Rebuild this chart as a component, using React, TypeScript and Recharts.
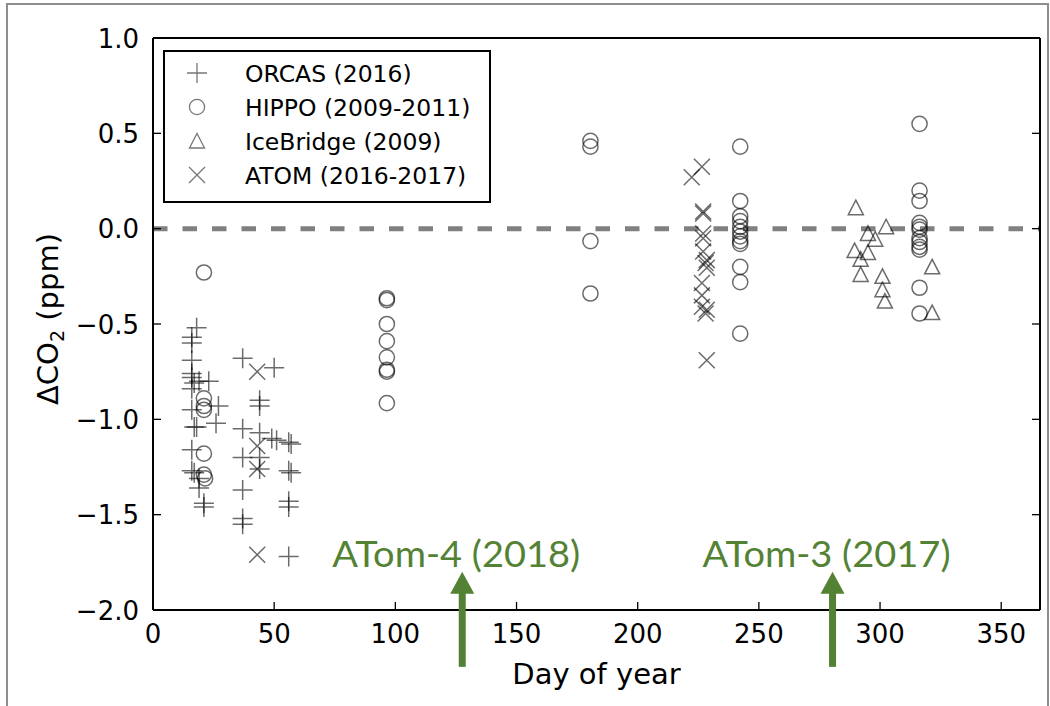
import React from 'react';
import { ScatterChart, Scatter, XAxis, YAxis, ReferenceLine } from 'recharts';

const xTicks = [0, 50, 100, 150, 200, 250, 300, 350];
const yTicks = [-2, -1.5, -1, -0.5, 0, 0.5, 1];

const orcas = [
  { day: 16, dco2: -0.57 }, { day: 18, dco2: -0.52 }, { day: 16, dco2: -0.6 }, { day: 16, dco2: -0.69 },
  { day: 16, dco2: -0.76 }, { day: 16, dco2: -0.78 }, { day: 17, dco2: -0.81 }, { day: 16, dco2: -0.84 },
  { day: 19, dco2: -0.8 }, { day: 23, dco2: -0.8 }, { day: 16, dco2: -0.95 }, { day: 17, dco2: -1.04 },
  { day: 18, dco2: -1.04 }, { day: 16, dco2: -1.16 }, { day: 16, dco2: -1.27 }, { day: 17, dco2: -1.28 },
  { day: 19, dco2: -1.31 }, { day: 19, dco2: -1.36 }, { day: 21, dco2: -1.44 }, { day: 21, dco2: -1.46 },
  { day: 27, dco2: -0.93 }, { day: 26, dco2: -1.02 },
  { day: 37, dco2: -0.68 }, { day: 37, dco2: -1.05 }, { day: 37, dco2: -1.2 }, { day: 37, dco2: -1.37 },
  { day: 37, dco2: -1.52 }, { day: 37, dco2: -1.55 },
  { day: 44, dco2: -0.9 }, { day: 44, dco2: -0.93 }, { day: 44, dco2: -1.07 }, { day: 44, dco2: -1.2 },
  { day: 44, dco2: -1.26 },
  { day: 50, dco2: -0.73 }, { day: 49, dco2: -1.1 }, { day: 51, dco2: -1.11 },
  { day: 56, dco2: -1.12 }, { day: 57, dco2: -1.13 }, { day: 56, dco2: -1.27 }, { day: 57, dco2: -1.28 },
  { day: 56, dco2: -1.43 }, { day: 56, dco2: -1.46 }, { day: 56, dco2: -1.72 },
];

const hippo = [
  { day: 21, dco2: -0.23 }, { day: 21, dco2: -0.89 }, { day: 21, dco2: -0.93 }, { day: 21, dco2: -0.95 },
  { day: 21, dco2: -1.18 }, { day: 21, dco2: -1.29 }, { day: 21.5, dco2: -1.31 },
  { day: 96.5, dco2: -0.365 }, { day: 96.5, dco2: -0.375 }, { day: 96.5, dco2: -0.5 }, { day: 96.5, dco2: -0.59 },
  { day: 96.5, dco2: -0.675 }, { day: 96.5, dco2: -0.74 }, { day: 96.5, dco2: -0.75 }, { day: 96.5, dco2: -0.915 },
  { day: 180.5, dco2: 0.46 }, { day: 180.5, dco2: 0.43 }, { day: 180.5, dco2: -0.065 }, { day: 180.5, dco2: -0.34 },
  { day: 242.3, dco2: 0.43 }, { day: 242.3, dco2: 0.145 }, { day: 242.3, dco2: 0.065 }, { day: 242.3, dco2: 0.04 },
  { day: 242.3, dco2: 0.01 }, { day: 242.3, dco2: -0.015 }, { day: 242.3, dco2: -0.04 }, { day: 242.3, dco2: -0.065 },
  { day: 242.3, dco2: -0.08 }, { day: 242.3, dco2: -0.2 }, { day: 242.3, dco2: -0.28 }, { day: 242.3, dco2: -0.55 },
  { day: 316.3, dco2: 0.55 }, { day: 316.3, dco2: 0.2 }, { day: 316.3, dco2: 0.145 }, { day: 316.3, dco2: 0.03 },
  { day: 316.3, dco2: 0.01 }, { day: 316.3, dco2: -0.005 }, { day: 316.3, dco2: -0.05 }, { day: 316.3, dco2: -0.07 },
  { day: 316.3, dco2: -0.095 }, { day: 316.3, dco2: -0.11 }, { day: 316.3, dco2: -0.31 }, { day: 316.3, dco2: -0.445 },
];

const iceBridge = [
  { day: 290, dco2: 0.11 }, { day: 295, dco2: -0.025 }, { day: 298, dco2: -0.055 }, { day: 302.5, dco2: 0.01 },
  { day: 289.5, dco2: -0.115 }, { day: 295, dco2: -0.125 }, { day: 292, dco2: -0.16 }, { day: 292, dco2: -0.24 },
  { day: 301, dco2: -0.25 }, { day: 301, dco2: -0.32 }, { day: 302, dco2: -0.38 }, { day: 321.5, dco2: -0.2 },
  { day: 321.5, dco2: -0.44 },
];

const atom = [
  { day: 43, dco2: -0.75 }, { day: 43, dco2: -1.14 }, { day: 43, dco2: -1.26 }, { day: 43, dco2: -1.71 },
  { day: 226.5, dco2: 0.325 }, { day: 222.3, dco2: 0.27 }, { day: 227, dco2: 0.09 }, { day: 227, dco2: 0.08 },
  { day: 227, dco2: -0.025 }, { day: 227, dco2: -0.05 }, { day: 227, dco2: -0.12 }, { day: 228.5, dco2: -0.165 },
  { day: 228, dco2: -0.18 }, { day: 228.5, dco2: -0.205 }, { day: 226.5, dco2: -0.285 }, { day: 226.5, dco2: -0.35 },
  { day: 226.5, dco2: -0.41 }, { day: 228.5, dco2: -0.425 }, { day: 228, dco2: -0.445 }, { day: 228.5, dco2: -0.69 },
];

// green arrows under the plot marking the next ATom campaigns
const campaigns = [
  { day: 127.6, dco2: -1.8, label: 'ATom-4 (2018)' },
  { day: 280.4, dco2: -1.8, label: 'ATom-3 (2017)' },
];

const legendItems = [
  { name: 'ORCAS (2016)', kind: 'plus' },
  { name: 'HIPPO (2009-2011)', kind: 'circle' },
  { name: 'IceBridge (2009)', kind: 'triangle' },
  { name: 'ATOM (2016-2017)', kind: 'cross' },
];

const FONT = '"DejaVu Sans", sans-serif';
const GREEN = '#548235';
const MARK = { stroke: '#000', strokeOpacity: 0.58, strokeWidth: 1.5, fill: 'none' };
const LEGEND_MARK = { stroke: '#777', strokeWidth: 1.3, fill: 'none' };

const Marker = ({ kind, cx, cy, style }: any) => {
  if (kind === 'plus') {
    return <path d={`M${cx - 10},${cy}H${cx + 10}M${cx},${cy - 10}V${cy + 10}`} {...style} />;
  }
  if (kind === 'circle') {
    return <circle cx={cx} cy={cy} r={7.6} {...style} />;
  }
  if (kind === 'triangle') {
    return <path d={`M${cx},${cy - 7.5}L${cx + 7.5},${cy + 7}L${cx - 7.5},${cy + 7}Z`} {...style} />;
  }
  return <path d={`M${cx - 8},${cy - 8}L${cx + 8},${cy + 8}M${cx - 8},${cy + 8}L${cx + 8},${cy - 8}`} {...style} />;
};

const shapeOf = (kind: string) => (p: any) => <Marker kind={kind} cx={p.cx} cy={p.cy} style={MARK} />;

const CampaignArrow = (p: any) => {
  const { cx, cy, payload } = p;
  return (
    <g>
      <text x={cx - 130} y={cy - 5} fill={GREEN} fontFamily="Lato, sans-serif" fontSize={37} textLength={248} lengthAdjust="spacingAndGlyphs">
        {payload.label}
      </text>
      <path d={`M${cx},${cy}L${cx + 12},${cy + 22}L${cx - 12},${cy + 22}Z`} fill={GREEN} />
      <rect x={cx - 3.5} y={cy + 21} width={7} height={74} fill={GREEN} />
    </g>
  );
};

const fmt = (v: number) => v.toFixed(1).replace('-', '\u2212');

const BottomTick = (p: any) => (
  <g>
    <line x1={p.x} x2={p.x} y1={p.y} y2={p.y - 8} stroke="#000" strokeWidth={1.3} />
    <text x={p.x} y={p.y + 33} textAnchor="middle" fontFamily={FONT} fontSize={26} fill="#000">{p.payload.value}</text>
  </g>
);
const TopTick = (p: any) => <line x1={p.x} x2={p.x} y1={p.y} y2={p.y + 8} stroke="#000" strokeWidth={1.3} />;
const LeftTick = (p: any) => (
  <g>
    <line x1={p.x} x2={p.x + 8} y1={p.y} y2={p.y} stroke="#000" strokeWidth={1.3} />
    <text x={p.x - 14} y={p.y + 9.5} textAnchor="end" fontFamily={FONT} fontSize={26} fill="#000">{fmt(p.payload.value)}</text>
  </g>
);
const RightTick = (p: any) => <line x1={p.x} x2={p.x - 8} y1={p.y} y2={p.y} stroke="#000" strokeWidth={1.3} />;

const Legend = () => (
  <svg width={330} height={155} style={{ position: 'absolute', left: 163, top: 50 }}>
    <rect x={1} y={1} width={326} height={151} fill="#fff" stroke="#000" strokeWidth={2} />
    {legendItems.map((it, i) => (
      <g key={it.name}>
        <Marker kind={it.kind} cx={34} cy={23 + i * 34} style={LEGEND_MARK} />
        <text x={82} y={23 + i * 34 + 8.5} fontFamily={FONT} fontSize={23.5} fill="#000">{it.name}</text>
      </g>
    ))}
  </svg>
);

export default function App() {
  const axisLine = { stroke: '#000', strokeWidth: 2 };
  return (
    <div style={{ position: 'absolute', left: 0, top: 0, width: 1050, height: 706, background: '#fff', overflow: 'hidden' }}>
      <div style={{ position: 'absolute', left: 6, top: 3, width: 1039, height: 720, border: '2px solid #8e8e8e' }} />
      <ScatterChart width={1050} height={706} margin={{ top: 37, right: 9, bottom: 0, left: 0 }} style={{ position: 'absolute', left: 0, top: 0 }}>
        <XAxis xAxisId="b" dataKey="day" type="number" domain={[0, 366]} ticks={xTicks}
          height={96} axisLine={axisLine} tickLine={false} tickSize={0} tickMargin={0} tick={<BottomTick />} interval={0}
          label={{ value: 'Day of year', position: 'insideBottom', offset: 22, fontFamily: FONT, fontSize: 29, fill: '#000' }} />
        <XAxis xAxisId="t" orientation="top" type="number" domain={[0, 366]} ticks={xTicks} allowDataOverflow
          height={1} axisLine={axisLine} tickLine={false} tickSize={0} tickMargin={0} tick={<TopTick />} interval={0} />
        <YAxis yAxisId="l" dataKey="dco2" type="number" domain={[-2, 1]} ticks={yTicks}
          width={153} axisLine={axisLine} tickLine={false} tickSize={0} tickMargin={0} tick={<LeftTick />} interval={0} />
        <YAxis yAxisId="r" orientation="right" type="number" domain={[-2, 1]} ticks={yTicks} allowDataOverflow
          width={1} axisLine={axisLine} tickLine={false} tickSize={0} tickMargin={0} tick={<RightTick />} interval={0} />
        <ReferenceLine xAxisId="b" yAxisId="l" y={0} stroke="#808080" strokeWidth={5} strokeDasharray="14.5 15" />
        <Scatter xAxisId="b" yAxisId="l" name="ORCAS (2016)" data={orcas} shape={shapeOf('plus')} isAnimationActive={false} />
        <Scatter xAxisId="b" yAxisId="l" name="HIPPO (2009-2011)" data={hippo} shape={shapeOf('circle')} isAnimationActive={false} />
        <Scatter xAxisId="b" yAxisId="l" name="IceBridge (2009)" data={iceBridge} shape={shapeOf('triangle')} isAnimationActive={false} />
        <Scatter xAxisId="b" yAxisId="l" name="ATOM (2016-2017)" data={atom} shape={shapeOf('cross')} isAnimationActive={false} />
        <Scatter xAxisId="b" yAxisId="l" data={campaigns} shape={CampaignArrow} isAnimationActive={false} />
      </ScatterChart>
      <svg width={100} height={706} style={{ position: 'absolute', left: 0, top: 0, pointerEvents: 'none' }}>
        <text transform="rotate(-90 58 319)" x={58} y={319} textAnchor="middle" fontFamily={FONT} fontSize={29} fill="#000">
          <tspan>{'\u0394CO'}</tspan>
          <tspan fontSize={19} dy={6}>2</tspan>
          <tspan dy={-6}>{' (ppm)'}</tspan>
        </text>
      </svg>
      <Legend />
    </div>
  );
}
